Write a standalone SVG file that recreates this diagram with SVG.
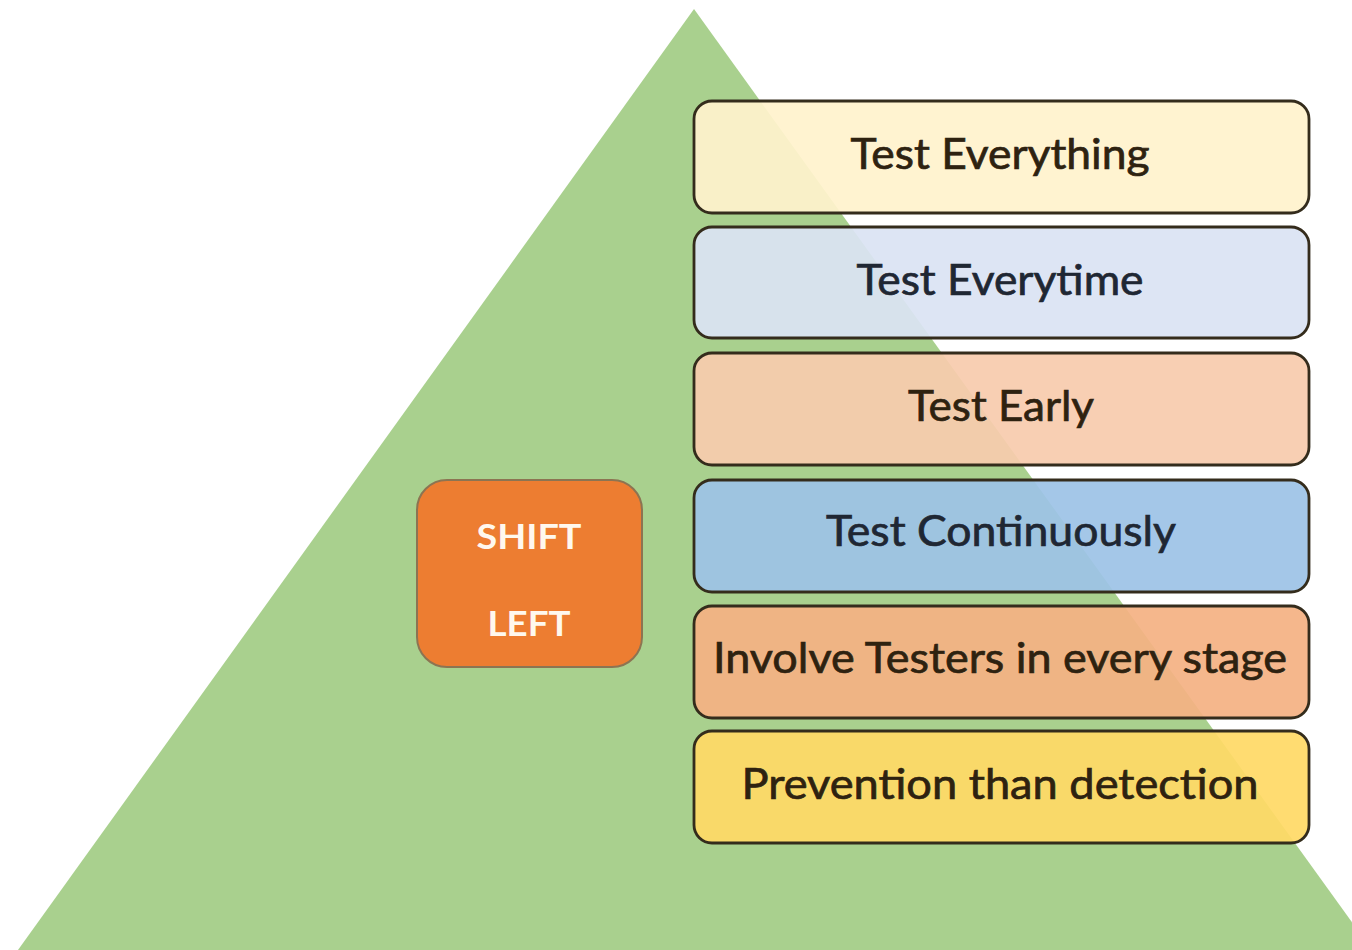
<svg xmlns="http://www.w3.org/2000/svg" width="1352" height="950" viewBox="0 0 1352 950">
  <style>
    .step { stroke: #342c1c; stroke-width: 2.8; fill-opacity: 0.93; }
    .label { font-family: Lato, "Open Sans", "Liberation Sans", sans-serif; font-size: 42px; text-anchor: middle; stroke-width: 0.7; }
    .warm { fill: #2e2210; stroke: #2e2210; }
    .cool { fill: #1f2733; stroke: #1f2733; }
    .shift { font-family: Lato, "Liberation Sans", sans-serif; font-size: 35px; font-weight: bold; fill: #fff8ee; text-anchor: middle; }
  </style>

  <!-- background pyramid -->
  <polygon id="pyramid" points="694,9 1372,950 18,950" fill="#a9d08e"/>

  <!-- shift-left badge -->
  <g id="shift-left">
    <rect x="417" y="480" width="225" height="187" rx="30" fill="#ed7d31" stroke="#8c7452" stroke-width="2"/>
    <text class="shift" x="529" y="549" textLength="105" lengthAdjust="spacingAndGlyphs">SHIFT</text>
    <text class="shift" x="529" y="636" textLength="83" lengthAdjust="spacingAndGlyphs">LEFT</text>
  </g>

  <!-- principle steps -->
  <g id="test-everything">
    <rect class="step" x="694" y="101" width="615" height="112" rx="18" fill="#fff2cc"/>
    <text class="label warm" x="1000" y="169" textLength="299" lengthAdjust="spacingAndGlyphs">Test Everything</text>
  </g>
  <g id="test-everytime">
    <rect class="step" x="694" y="227" width="615" height="111" rx="18" fill="#dae3f3"/>
    <text class="label cool" x="1000" y="295" textLength="287" lengthAdjust="spacingAndGlyphs">Test Everytime</text>
  </g>
  <g id="test-early">
    <rect class="step" x="694" y="353" width="615" height="112" rx="18" fill="#f8cbad"/>
    <text class="label warm" x="1001" y="421" textLength="186" lengthAdjust="spacingAndGlyphs">Test Early</text>
  </g>
  <g id="test-continuously">
    <rect class="step" x="694" y="480" width="615" height="112" rx="18" fill="#9dc3e6"/>
    <text class="label cool" x="1001" y="546" textLength="350" lengthAdjust="spacingAndGlyphs">Test Continuously</text>
  </g>
  <g id="involve-testers">
    <rect class="step" x="694" y="606" width="615" height="112" rx="18" fill="#f4b183"/>
    <text class="label warm" x="1000" y="673" textLength="574" lengthAdjust="spacingAndGlyphs">Involve Testers in every stage</text>
  </g>
  <g id="prevention">
    <rect class="step" x="694" y="731" width="615" height="112" rx="18" fill="#ffd966"/>
    <text class="label warm" x="1000" y="799" textLength="517" lengthAdjust="spacingAndGlyphs">Prevention than detection</text>
  </g>

  <!-- no connectors in this figure -->
  <g id="connectors"/>
</svg>
